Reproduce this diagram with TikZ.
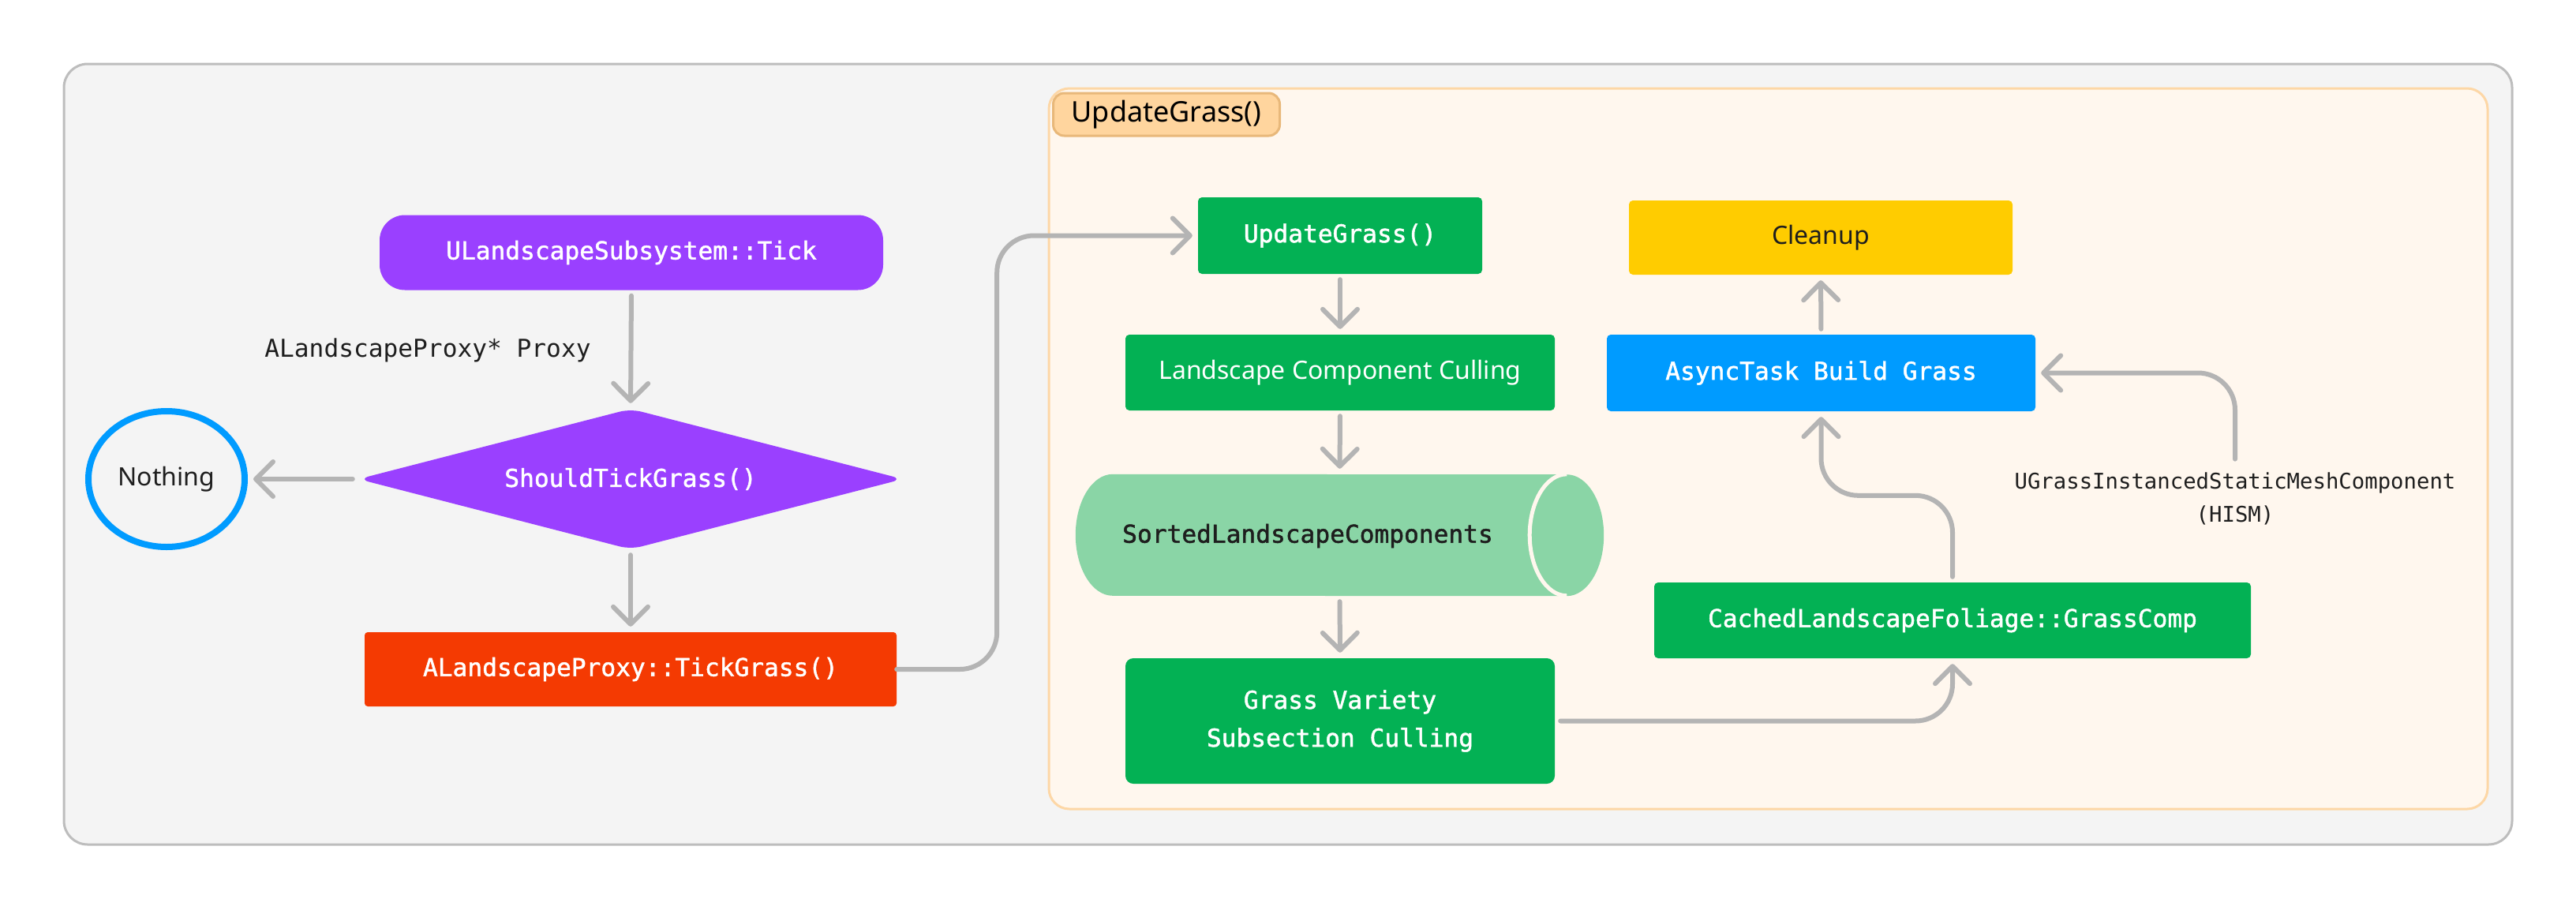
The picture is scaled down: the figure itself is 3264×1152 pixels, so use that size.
\documentclass[tikz,border=0pt]{standalone}
\usepackage{fontspec}
\setmainfont{Noto Sans}
\newfontfamily\codefont{DejaVu Sans Mono}
\newfontfamily\codemedium[FakeBold=1.5]{DejaVu Sans Mono}
\usepackage{tikz}
\usetikzlibrary{arrows.meta,shapes.geometric}
\usepackage{xcolor}

\definecolor{panelgray}{HTML}{F4F4F4}
\definecolor{panelline}{HTML}{BDBDBD}
\definecolor{creambg}{HTML}{FFF7EE}
\definecolor{creamline}{HTML}{FDD7A6}
\definecolor{tagfill}{HTML}{FFD59E}
\definecolor{tagline}{HTML}{E8B87A}
\definecolor{tickpurple}{HTML}{9A40FF}
\definecolor{tickred}{HTML}{F43A02}
\definecolor{grassgreen}{HTML}{03B154}
\definecolor{sortgreen}{HTML}{8AD5A6}
\definecolor{asyncblue}{HTML}{009BFF}
\definecolor{cleanyellow}{HTML}{FFCC00}
\definecolor{wiregray}{HTML}{B4B4B4}
\definecolor{inkdark}{HTML}{1E1E1E}

\newcommand{\codetext}{\codefont\fontsize{31.2}{48}\selectfont}
\newcommand{\boldcode}{\codemedium\fontsize{31.2}{48}\selectfont}
\newcommand{\notetext}{\codefont\fontsize{27.3}{42}\selectfont}
\newcommand{\plaintext}{\fontsize{32}{40}\selectfont}

\tikzset{
  codebox/.style={rectangle, inner sep=0pt, text=white, font=\boldcode, rounded corners=5pt},
  plainbox/.style={rectangle, inner sep=0pt, font=\plaintext, rounded corners=5pt},
  tag/.style={rectangle, fill=tagfill, draw=tagline, line width=3pt, rounded corners=14pt,
              inner sep=0pt, minimum width=287pt, minimum height=54pt, font=\fontsize{36}{40}\selectfont},
  note/.style={font=\codetext, text=inkdark, inner sep=0pt},
  wire/.style={draw=wiregray, line width=6pt, line cap=round, rounded corners=47pt,
               -{Straight Barb[length=22pt,width=44pt,round]}, shorten <=7pt, shorten >=7pt},
}

\begin{document}
\begin{tikzpicture}[x=1pt,y=1pt]
        \useasboundingbox (0,0) rectangle (3264,-1152);
        \fill[white] (0,0) rectangle (3264,-1152);

        % panels
        \draw[fill=panelgray, draw=panelline, line width=3pt, rounded corners=30pt] (81,-81) rectangle (3183,-1070);
        \draw[fill=creambg, draw=creamline, line width=3pt, rounded corners=26pt] (1329,-112) rectangle (3152,-1025);
        \node[tag] (tag) at (1478,-145) {UpdateGrass()};

        % left column
        \node[codebox, fill=tickpurple, minimum width=638pt, minimum height=95pt, rounded corners=32pt]
              (tick) at (800,-320) {ULandscapeSubsystem::Tick};
        \node[note] (proxy) at (542,-444) {ALandscapeProxy* Proxy};
        \node[diamond, aspect=3.87, inner sep=0pt, fill=tickpurple, text=white, font=\boldcode,
              minimum width=690pt, minimum height=178pt, rounded corners=14pt]
              (should) at (799,-607) {ShouldTickGrass()};
        \node[ellipse, draw=asyncblue, line width=8pt, inner sep=0pt, font=\plaintext, text=inkdark,
              minimum width=198pt, minimum height=172pt] (nothing) at (211,-607) {Nothing};
        \node[codebox, fill=tickred, minimum width=674pt, minimum height=94pt, rounded corners=4pt]
              (tickgrass) at (799,-848) {ALandscapeProxy::TickGrass()};

        % middle column
        \node[codebox, fill=grassgreen, minimum width=360pt, minimum height=97pt] (update) at (1698,-298.5) {UpdateGrass()};
        \node[plainbox, fill=grassgreen, text=white, minimum width=544pt, minimum height=96pt] (lcc) at (1698,-472) {Landscape Component Culling};
        \node[minimum width=669pt, minimum height=154pt, inner sep=0pt] (sorted) at (1697.5,-678) {};
        \fill[sortgreen] ([xshift=47pt]sorted.north west) arc[start angle=90, end angle=270, x radius=47pt, y radius=77pt]
              -- ([xshift=-47pt]sorted.south east) arc[start angle=-90, end angle=90, x radius=47pt, y radius=77pt] -- cycle;
        \draw[creambg, line width=5pt] ([xshift=-47pt]sorted.north east) arc[start angle=90, end angle=270, x radius=47pt, y radius=77pt];
        \node[note, font=\boldcode] (sortedtext) at (1657,-679) {SortedLandscapeComponents};
        \node[codebox, fill=grassgreen, minimum width=544pt, minimum height=159pt, rounded corners=10pt, align=center]
              (gvsc) at (1698,-913.5) {Grass Variety\\Subsection Culling};

        % right column
        \node[plainbox, fill=cleanyellow, text=inkdark, minimum width=486pt, minimum height=94pt] (cleanup) at (2307,-301) {Cleanup};
        \node[codebox, fill=asyncblue, minimum width=543pt, minimum height=97pt] (async) at (2307.5,-472.5) {AsyncTask Build Grass};
        \node[codebox, fill=grassgreen, minimum width=756pt, minimum height=96pt] (cached) at (2474,-786) {CachedLandscapeFoliage::GrassComp};
        \node[note, font=\notetext, align=center, inner sep=5pt] (hism) at (2832,-632) {UGrassInstancedStaticMeshComponent\\(HISM)};

        % connectors
        \draw[wire] (tick.south) -- (should.north);
        \draw[wire] (should.west) -- (nothing.east);
        \draw[wire] (should.south) -- (tickgrass.north);
        \draw[wire, shorten <=0pt] (tickgrass.east) -- ++(127,0) |- (update.west);
        \draw[wire] (update.south) -- (lcc.north);
        \draw[wire] (lcc.south) -- (sorted.north);
        \draw[wire] (sorted.south) -- (gvsc.north);
        \draw[wire] (gvsc.east) -| (cached.south);
        \draw[wire] (cached.north) -- ++(0,110) -| (async.south);
        \draw[wire] (async.north) -- (cleanup.south);
        \draw[wire, shorten <=12pt] (hism.north) |- (async.east);
\end{tikzpicture}
\end{document}
